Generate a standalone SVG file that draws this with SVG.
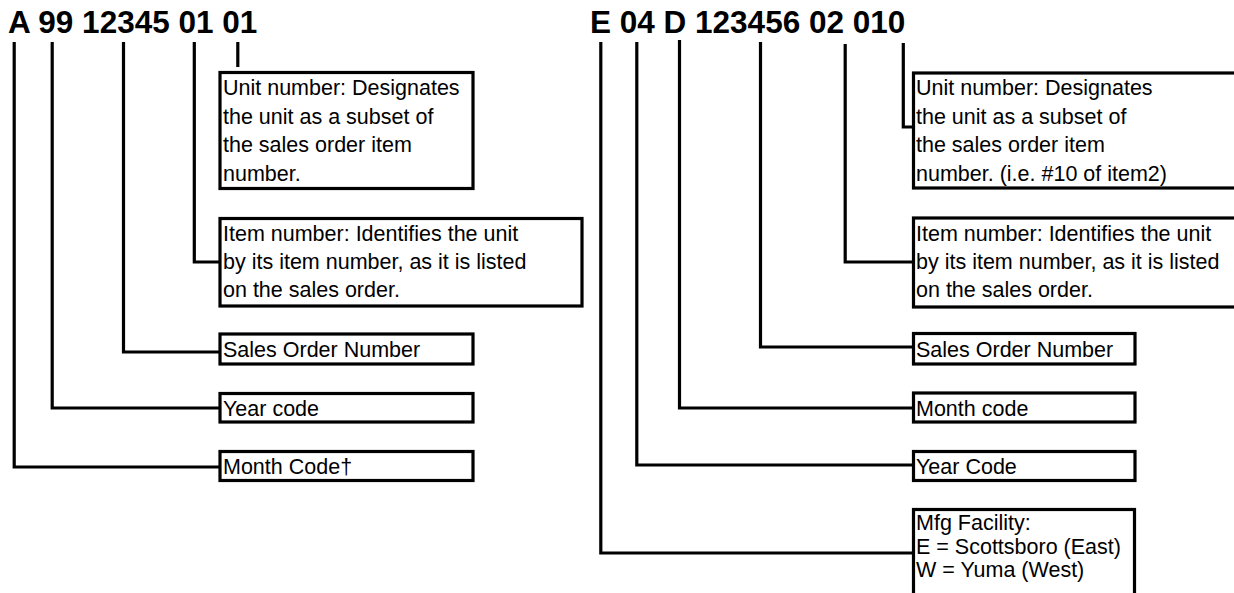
<svg xmlns="http://www.w3.org/2000/svg" width="1234" height="593" viewBox="0 0 1234 593">
<style>
.title{font-family:"Liberation Sans",Arial,sans-serif;font-weight:bold;font-size:31.5px;fill:#000}
.t{font-family:"Liberation Sans",Arial,sans-serif;font-size:21.5px;fill:#000}
.box{fill:#fff;stroke:#000;stroke-width:3.2}
.c{fill:none;stroke:#000;stroke-width:3.2}
</style>
<rect width="1234" height="593" fill="#fff"/>
<g id="titles">
<text class="title" x="8" y="33">A 99 12345 01 01</text>
<text class="title" x="590" y="33">E 04 D 123456 02 010</text>
</g>
<g id="connectors">
<path class="c" d="M237.8 42V67"/>
<path class="c" d="M194.3 42V262H220"/>
<path class="c" d="M123.5 42V352H220"/>
<path class="c" d="M52.2 42V408H220"/>
<path class="c" d="M14.2 42V467H220"/>
<path class="c" d="M903.3 43V127H913"/>
<path class="c" d="M845.2 44V262H913"/>
<path class="c" d="M760.5 42V347H913"/>
<path class="c" d="M679.5 40V408H913"/>
<path class="c" d="M636.8 42V465H913"/>
<path class="c" d="M600.8 42V553H913"/>
</g>
<g id="left-unit">
<rect class="box" x="220" y="72.5" width="253" height="116"/>
<text class="t" x="223" y="95">Unit number: Designates</text>
<text class="t" x="223" y="123.5">the unit as a subset of</text>
<text class="t" x="223" y="152">the sales order item</text>
<text class="t" x="223" y="180.5">number.</text>
</g>
<g id="left-item">
<rect class="box" x="220" y="218.5" width="362" height="87.5"/>
<text class="t" x="223" y="240.5">Item number: Identifies the unit</text>
<text class="t" x="223" y="268.5">by its item number, as it is listed</text>
<text class="t" x="223" y="296.5">on the sales order.</text>
</g>
<g id="left-sales">
<rect class="box" x="220" y="334" width="253" height="30"/>
<text class="t" x="223" y="357">Sales Order Number</text>
</g>
<g id="left-year">
<rect class="box" x="220" y="393.5" width="253" height="28.5"/>
<text class="t" x="223" y="415.5">Year code</text>
</g>
<g id="left-month">
<rect class="box" x="220" y="451.5" width="253" height="29"/>
<text class="t" x="223" y="474">Month Code†</text>
</g>
<g id="right-unit">
<rect class="box" x="913.5" y="73" width="330" height="115"/>
<text class="t" x="916" y="95">Unit number: Designates</text>
<text class="t" x="916" y="123.5">the unit as a subset of</text>
<text class="t" x="916" y="152">the sales order item</text>
<text class="t" x="916" y="180.5">number. (i.e. #10 of item2)</text>
</g>
<g id="right-item">
<rect class="box" x="913.5" y="218" width="330" height="89"/>
<text class="t" x="916" y="241">Item number: Identifies the unit</text>
<text class="t" x="916" y="269">by its item number, as it is listed</text>
<text class="t" x="916" y="297">on the sales order.</text>
</g>
<g id="right-sales">
<rect class="box" x="913.5" y="333.5" width="221.5" height="30.5"/>
<text class="t" x="916" y="356.5">Sales Order Number</text>
</g>
<g id="right-month">
<rect class="box" x="913.5" y="393" width="221.5" height="29"/>
<text class="t" x="916" y="415.5">Month code</text>
</g>
<g id="right-year">
<rect class="box" x="913.5" y="451.5" width="221.5" height="29"/>
<text class="t" x="916" y="474">Year Code</text>
</g>
<g id="right-mfg">
<rect class="box" x="913.5" y="509.5" width="221" height="100"/>
<text class="t" x="916" y="530">Mfg Facility:</text>
<text class="t" x="916" y="553.5">E = Scottsboro (East)</text>
<text class="t" x="916" y="577">W = Yuma (West)</text>
</g>
</svg>
